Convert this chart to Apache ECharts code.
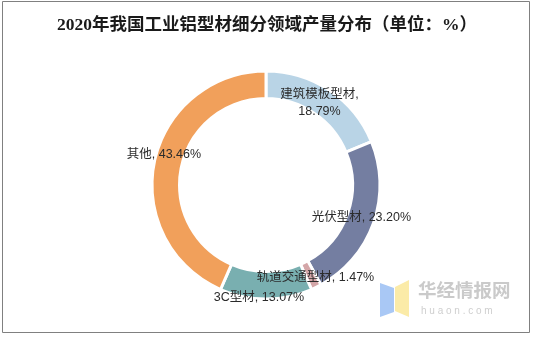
<!DOCTYPE html>
<html>
<head>
<meta charset="utf-8">
<script src="https://cdn.jsdelivr.net/npm/echarts@6/dist/echarts.min.js"></script>
<style>
  html, body { margin: 0; padding: 0; background: #fff; }
  #chart { width: 534px; height: 337px; }
</style>
</head>
<body>
<div id="chart"></div>
<script>
// Segments of industrial aluminium profile output, 2020 (%)
const categories = ['建筑模板型材', '光伏型材', '轨道交通型材', '3C型材', '其他'];
const shares = [18.79, 23.20, 1.47, 13.07, 43.46];
const colors = ['#B9D4E6', '#747EA1', '#D4A6A8', '#79AFB0', '#F1A05B'];
// Nudge each label from its in-ring anchor
const labelOffsets = [[-4, 4], [-2, -2], [4, 0], [-7, 9], [-1, -9]];

const chart = echarts.init(document.getElementById('chart'), null, { renderer: 'canvas' });

const labelFont = 'Liberation Sans, Arial, "Noto Sans CJK SC", sans-serif';

chart.setOption({
  backgroundColor: '#fff',
  animation: false,
  title: {
    text: '2020年我国工业铝型材细分领域产量分布（单位：%）',
    left: 'center',
    top: 12,
    textStyle: {
      fontFamily: '"Liberation Serif", "Noto Sans CJK SC", serif',
      fontSize: 17.5,
      fontWeight: 'bold',
      color: '#1a1a1a'
    }
  },
  series: [{
    type: 'pie',
    center: [266, 185],
    radius: [86.5, 114],
    startAngle: 90,
    clockwise: true,
    avoidLabelOverlap: false,
    itemStyle: { borderColor: '#fff', borderWidth: 3 },
    label: {
      show: true,
      position: 'inside',
      fontFamily: labelFont,
      fontSize: 12.5,
      color: '#2b2b2b',
      lineHeight: 17
    },
    labelLine: { show: false },
    emphasis: { disabled: true },
    data: categories.map((name, i) => ({
      name,
      value: shares[i],
      itemStyle: { color: colors[i] },
      label: {
        offset: labelOffsets[i],
        formatter: i === 0
          ? name + ',\n' + shares[i].toFixed(2) + '%'
          : name + ', ' + shares[i].toFixed(2) + '%'
      }
    }))
  }],
  graphic: [
    {
      type: 'rect',
      shape: { x: 2.5, y: 1.5, width: 527, height: 331 },
      style: { fill: 'none', stroke: '#808080', lineWidth: 1 },
      silent: true
    },
    {
      type: 'polygon',
      shape: { points: [[380, 283], [394, 288], [394, 312], [380, 317]] },
      style: { fill: '#A9C8F5' },
      silent: true
    },
    {
      type: 'polygon',
      shape: { points: [[395, 287], [409, 280], [409, 317], [395, 311]] },
      style: { fill: '#FBEBA8' },
      silent: true
    },
    {
      type: 'text',
      left: 418,
      top: 281,
      style: {
        text: '华经情报网',
        fontFamily: '"Noto Sans CJK SC", sans-serif',
        fontSize: 18.5,
        fontWeight: 'bold',
        fill: '#CACACA'
      },
      silent: true
    },
    {
      type: 'text',
      left: 421,
      top: 306,
      style: {
        text: 'h u a o n . c o m',
        fontFamily: 'Liberation Sans, Arial, sans-serif',
        fontSize: 10,
        fill: '#CFCFCF'
      },
      silent: true
    }
  ]
});
</script>
</body>
</html>
